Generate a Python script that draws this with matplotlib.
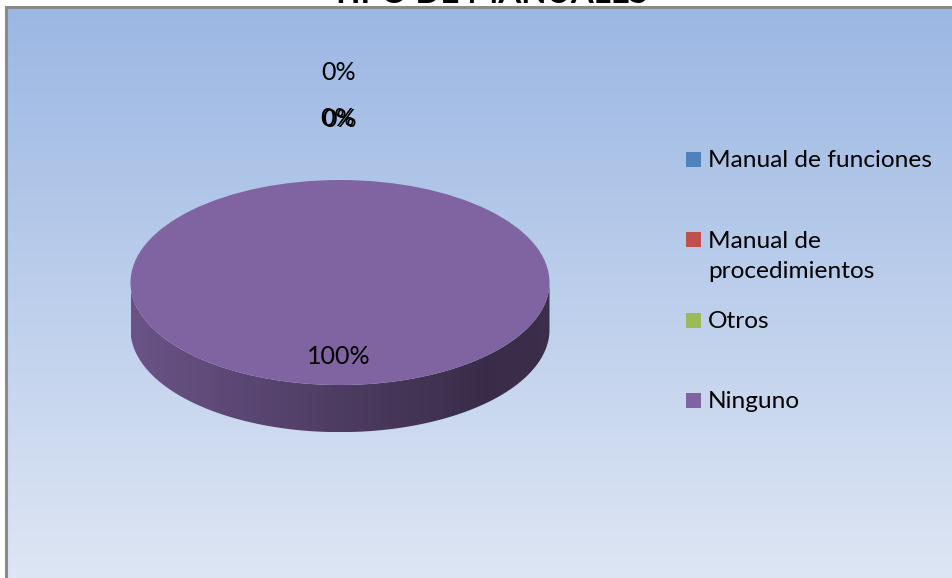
import numpy as np
import matplotlib
matplotlib.use("Agg")
import matplotlib.pyplot as plt
from matplotlib.patches import Rectangle, Polygon

# Survey data: type of manuals available
categories = ["Manual de funciones", "Manual de\nprocedimientos", "Otros", "Ninguno"]
values = [0, 0, 0, 100]
colors = ["#4F81BD", "#C0504D", "#9BBB59", "#8064A2"]
title = "TIPO DE MANUALES"

W, H = 953, 578
fig = plt.figure(figsize=(W / 100, H / 100), dpi=100)
fig.patch.set_facecolor("white")
FONT = ["Lato", "DejaVu Sans"]


def px(x0, y0, x1, y1):
    """Convert a pixel box (top-left origin) into figure coordinates."""
    return [x0 / W, 1 - y1 / H, (x1 - x0) / W, (y1 - y0) / H]


# Chart area with a vertical blue gradient and a grey border
bg = fig.add_axes(px(6, 7, W + 4, H + 4))
bg.set_axis_off()
top = np.array([155, 183, 227]) / 255
bot = np.array([222, 230, 244]) / 255
t = np.linspace(0, 1, 256)[:, None]
grad = (top[None, :] * (1 - t) + bot[None, :] * t)[:, None, :]
bg.imshow(grad, aspect="auto", extent=[0, 1, 0, 1], interpolation="bilinear")
bg.set_xlim(0, 1)
bg.set_ylim(0, 1)
bg.add_patch(Rectangle((0, 0), 1, 1, transform=bg.transAxes, fill=False,
                       edgecolor="#8A8A8A", linewidth=2.2, clip_on=False))

# Title sits above the chart area
fig.text(489 / W, 1 - 2.8 / H, title, ha="center", va="baseline",
         fontsize=23.7, fontweight="bold", family=FONT, color="black")

# 3-D pie: top face drawn by pie(), front side extruded below it
depth = 0.46
ax = fig.add_axes(px(130.5, 180, 549.5, 180 + 205 * (1 + depth / 2)))
ax.set_axis_off()
wedges, _ = ax.pie(values, colors=colors, startangle=90, counterclock=False,
                   radius=1, wedgeprops=dict(linewidth=0))
ax.set_aspect("auto")

for w, c in zip(wedges, colors):
    a1, a2 = sorted((w.theta1, w.theta2))
    if a2 - a1 <= 0:
        continue
    # keep only the front (lower) half of the rim, angles 180..360
    spans = []
    for k in (-360, 0, 360):
        lo, hi = max(a1, 180 + k), min(a2, 360 + k)
        if hi > lo:
            spans.append((lo, hi))
    for lo, hi in spans:
        th = np.radians(np.linspace(lo, hi, 200))
        upper = np.column_stack([np.cos(th), np.sin(th)])
        lower = np.column_stack([np.cos(th[::-1]), np.sin(th[::-1]) - depth])
        poly = Polygon(np.vstack([upper, lower]), closed=True,
                       facecolor="none", edgecolor="none")
        ax.add_patch(poly)
        base = np.array(matplotlib.colors.to_rgb(c))
        xs = np.linspace(0, 1, 256)
        shade = 0.83 - 0.45 * xs
        shade[xs > 0.85] = (0.83 - 0.45 * 0.85) + 0.1 * (xs[xs > 0.85] - 0.85)
        img = (base[None, :] * shade[:, None])[None, :, :]
        im = ax.imshow(img, aspect="auto", extent=[-1, 1, -1 - depth, 0.05],
                       interpolation="bilinear", zorder=0.5)
        im.set_clip_path(poly)
for w in wedges:
    w.set_zorder(1)
ax.set_xlim(-1, 1)
ax.set_ylim(-1 - depth, 1)

# Percentage labels
total = sum(values)
pct = [f"{v / total * 100:.0f}%" for v in values]
label_pos = [(339, 73), (338, 119), (339.6, 119.8), (339, 356)]
for p, (x, y) in zip(pct, label_pos):
    fig.text(x / W, 1 - y / H, p, ha="center", va="center",
             fontsize=18, family=FONT, color="black")

# Legend
legend_rows = [159.5, 255.5, 320, 400.5]
marker_rows = [159.5, 239.5, 320, 400.5]
for lab, c, y, my in zip(categories, colors, legend_rows, marker_rows):
    fig.patches.append(Rectangle((686 / W, 1 - (my + 7.5) / H), 15 / W, 15 / H,
                                 transform=fig.transFigure, facecolor=c,
                                 edgecolor="none"))
    fig.text(708 / W, 1 - (y + 1) / H, lab, ha="left", va="center",
             fontsize=17.6, family=FONT, color="black", linespacing=1.55)

fig.savefig("out.png", dpi=100)
